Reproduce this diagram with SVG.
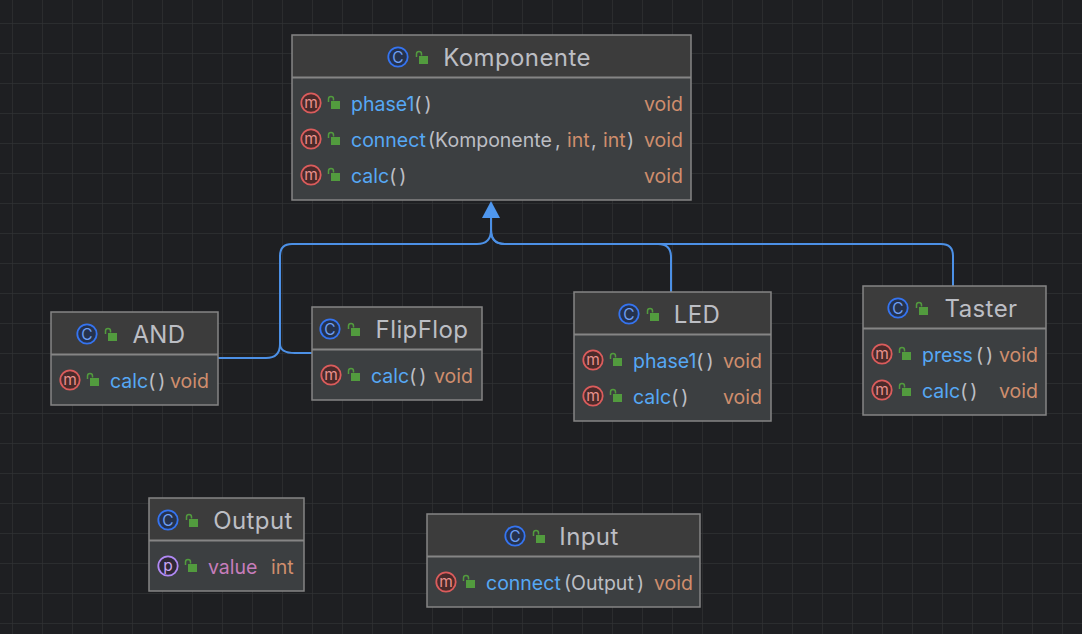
<svg xmlns="http://www.w3.org/2000/svg" width="1082" height="634" viewBox="0 0 1082 634">
<style>
text{font-family:"Inter","Noto Sans","Liberation Sans",sans-serif;font-size:19.500px}
.t{fill:#bcbec4;font-size:24px;text-anchor:middle;letter-spacing:.4px}
.n{fill:#56a8f5}.p{fill:#bcbec4}.q{fill:#bcbec4;letter-spacing:3px}.o{fill:#cf8e6d}.v{fill:#c77dbb}
.h{fill:#3c3c3c}.b{fill:#3c3f41}
.f{fill:none;stroke:#858585;stroke-width:1.5}
.d{stroke:#858585;stroke-width:2}
.ic{font-size:15.500px;text-anchor:middle}
</style>
<defs>
<pattern id="g" x="12" y="23" width="30" height="30" patternUnits="userSpaceOnUse">
<path d="M0 0V30M0 0H30" stroke="#303133" stroke-width="1.4" fill="none"/>
</pattern>
<g id="lock"><path d="M-4.500-2V-5A2.500 2.500 0 0 1 .5-5V-3.500" fill="none" stroke="#529b3e" stroke-width="1.500"/><rect x="-2" y="-3" width="9" height="8" fill="#529b3e"/></g>
<g id="ic"><circle r="9.700" fill="#25324d" stroke="#3574f0" stroke-width="1.800"/></g>
<g id="im"><circle r="9.700" fill="#4a2a2a" stroke="#db5c5c" stroke-width="1.800"/></g>
<g id="ip"><circle r="9.700" fill="#2f2936" stroke="#b189f5" stroke-width="1.800"/></g>
</defs>
<rect width="1082" height="634" fill="#1e1f22"/>
<rect width="1082" height="634" fill="url(#g)"/>

<g id="connectors" fill="none" stroke="#4c90e6" stroke-width="2">
<path d="M491 218V230Q491 244 477 244H292Q280 244 280 256V344Q280 358 266 358H218"/>
<path d="M491 230Q491 244 505 244H658Q671 244 671 257V292"/>
<path d="M491 230Q491 244 505 244H941Q953 244 953 256V286"/>
<path d="M280 344Q280 353 295 353H312"/>
<path d="M491 201L482 218H500Z" fill="#4f97ee" stroke="none"/>
</g>

<g id="Komponente">
<rect class="h" x="292" y="35" width="399" height="42"/><rect class="b" x="292" y="78" width="399" height="122"/>
<rect class="f" x="292" y="35" width="399" height="165"/><path class="d" d="M292 77.500H691"/>
<use href="#ic" x="398" y="57"/><text class="ic" x="398" y="62.500" fill="#6d9ff5">C</text><use href="#lock" x="421" y="59"/>
<text class="t" x="517" y="66">Komponente</text>
<use href="#im" x="311" y="103"/><text class="ic" x="311" y="108" fill="#e8908c">m</text><use href="#lock" x="333" y="104"/>
<text x="351" y="111"><tspan class="n">phase1</tspan><tspan class="q">()</tspan></text><text class="o" x="644" y="111">void</text>
<use href="#im" x="311" y="139"/><text class="ic" x="311" y="144" fill="#e8908c">m</text><use href="#lock" x="333" y="140"/>
<text x="351" y="147"><tspan class="n">connect</tspan><tspan class="p" x="428">(Komponente</tspan><tspan class="p" x="555">,</tspan><tspan class="o" x="567">int</tspan><tspan class="p" x="591">,</tspan><tspan class="o" x="603">int</tspan><tspan class="p" x="627">)</tspan></text><text class="o" x="644" y="147">void</text>
<use href="#im" x="311" y="175"/><text class="ic" x="311" y="180" fill="#e8908c">m</text><use href="#lock" x="333" y="176"/>
<text x="351" y="183"><tspan class="n">calc</tspan><tspan class="q">()</tspan></text><text class="o" x="644" y="183">void</text>
</g>

<g id="AND">
<rect class="h" x="51" y="312" width="167" height="42"/><rect class="b" x="51" y="355" width="167" height="50"/>
<rect class="f" x="51" y="312" width="167" height="93"/><path class="d" d="M51 354.500H218"/>
<use href="#ic" x="87" y="334"/><text class="ic" x="87" y="339.500" fill="#6d9ff5">C</text><use href="#lock" x="110" y="336"/>
<text class="t" x="159" y="343">AND</text>
<use href="#im" x="70" y="380"/><text class="ic" x="70" y="385" fill="#e8908c">m</text><use href="#lock" x="92" y="381"/>
<text x="110" y="388"><tspan class="n">calc</tspan><tspan class="q">()</tspan></text><text class="o" x="170" y="388">void</text>
</g>

<g id="FlipFlop">
<rect class="h" x="312" y="307" width="170" height="42"/><rect class="b" x="312" y="350" width="170" height="50"/>
<rect class="f" x="312" y="307" width="170" height="93"/><path class="d" d="M312 349.500H482"/>
<use href="#ic" x="330" y="329"/><text class="ic" x="330" y="334.500" fill="#6d9ff5">C</text><use href="#lock" x="353" y="331"/>
<text class="t" x="422" y="338">FlipFlop</text>
<use href="#im" x="331" y="375"/><text class="ic" x="331" y="380" fill="#e8908c">m</text><use href="#lock" x="353" y="376"/>
<text x="371" y="383"><tspan class="n">calc</tspan><tspan class="q">()</tspan></text><text class="o" x="434" y="383">void</text>
</g>

<g id="LED">
<rect class="h" x="574" y="292" width="197" height="42"/><rect class="b" x="574" y="335" width="197" height="86"/>
<rect class="f" x="574" y="292" width="197" height="129"/><path class="d" d="M574 334.500H771"/>
<use href="#ic" x="629" y="314"/><text class="ic" x="629" y="319.500" fill="#6d9ff5">C</text><use href="#lock" x="652" y="316"/>
<text class="t" x="697" y="323">LED</text>
<use href="#im" x="593" y="360"/><text class="ic" x="593" y="365" fill="#e8908c">m</text><use href="#lock" x="615" y="361"/>
<text x="633" y="368"><tspan class="n">phase1</tspan><tspan class="q">()</tspan></text><text class="o" x="723" y="368">void</text>
<use href="#im" x="593" y="396"/><text class="ic" x="593" y="401" fill="#e8908c">m</text><use href="#lock" x="615" y="397"/>
<text x="633" y="404"><tspan class="n">calc</tspan><tspan class="q">()</tspan></text><text class="o" x="723" y="404">void</text>
</g>

<g id="Taster">
<rect class="h" x="863" y="286" width="183" height="42"/><rect class="b" x="863" y="329" width="183" height="86"/>
<rect class="f" x="863" y="286" width="183" height="129"/><path class="d" d="M863 328.500H1046"/>
<use href="#ic" x="898" y="308"/><text class="ic" x="898" y="313.500" fill="#6d9ff5">C</text><use href="#lock" x="921" y="310"/>
<text class="t" x="981" y="317">Taster</text>
<use href="#im" x="882" y="354"/><text class="ic" x="882" y="359" fill="#e8908c">m</text><use href="#lock" x="904" y="355"/>
<text x="922" y="362"><tspan class="n">press</tspan><tspan class="q" x="976">()</tspan></text><text class="o" x="999" y="362">void</text>
<use href="#im" x="882" y="390"/><text class="ic" x="882" y="395" fill="#e8908c">m</text><use href="#lock" x="904" y="391"/>
<text x="922" y="398"><tspan class="n">calc</tspan><tspan class="q">()</tspan></text><text class="o" x="999" y="398">void</text>
</g>

<g id="Output">
<rect class="h" x="149" y="498" width="155" height="42"/><rect class="b" x="149" y="541" width="155" height="50"/>
<rect class="f" x="149" y="498" width="155" height="93"/><path class="d" d="M149 540.500H304"/>
<use href="#ic" x="168" y="520"/><text class="ic" x="168" y="525.500" fill="#6d9ff5">C</text><use href="#lock" x="191" y="522"/>
<text class="t" x="253" y="529">Output</text>
<use href="#ip" x="168" y="566"/><text class="ic" x="168" y="571" fill="#c9a7f5">p</text><use href="#lock" x="190" y="567"/>
<text class="v" x="208" y="574">value</text><text class="o" x="271" y="574">int</text>
</g>

<g id="Input">
<rect class="h" x="427" y="514" width="273" height="42"/><rect class="b" x="427" y="557" width="273" height="50"/>
<rect class="f" x="427" y="514" width="273" height="93"/><path class="d" d="M427 556.500H700"/>
<use href="#ic" x="515" y="536"/><text class="ic" x="515" y="541.500" fill="#6d9ff5">C</text><use href="#lock" x="538" y="538"/>
<text class="t" x="589" y="545">Input</text>
<use href="#im" x="446" y="582"/><text class="ic" x="446" y="587" fill="#e8908c">m</text><use href="#lock" x="468" y="583"/>
<text x="486" y="590"><tspan class="n">connect</tspan><tspan class="p" x="564">(Output</tspan><tspan class="p" x="637">)</tspan></text><text class="o" x="654" y="590">void</text>
</g>
</svg>
